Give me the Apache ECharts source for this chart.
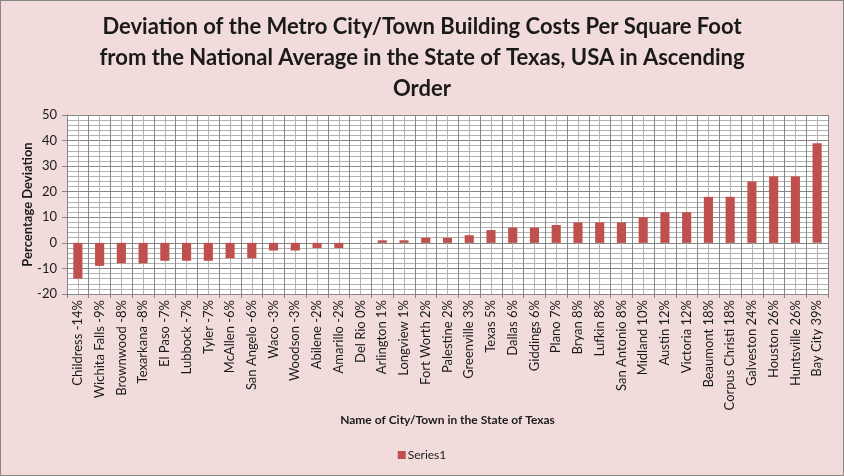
<!DOCTYPE html>
<html>
<head>
<meta charset="utf-8">
<script src="https://cdn.jsdelivr.net/npm/echarts@6/dist/echarts.min.js"></script>
<style>
  html, body { margin: 0; padding: 0; }
  #main { width: 842px; height: 474px; border: 1px solid #878787; background: #f2dcdb; }
</style>
</head>
<body>
<div id="main"></div>
<script>
// cities in ascending order of deviation
const cities = ['Childress', 'Wichita Falls', 'Brownwood', 'Texarkana', 'El Paso', 'Lubbock', 'Tyler',
  'McAllen', 'San Angelo', 'Waco', 'Woodson', 'Abilene', 'Amarillo', 'Del Rio', 'Arlington', 'Longview',
  'Fort Worth', 'Palestine', 'Greenville', 'Texas', 'Dallas', 'Giddings', 'Plano', 'Bryan', 'Lufkin',
  'San Antonio', 'Midland', 'Austin', 'Victoria', 'Beaumont', 'Corpus Christi', 'Galveston', 'Houston',
  'Huntsville', 'Bay City']
const deviation = [-14, -9, -8, -8, -7, -7, -7, -6, -6, -3, -3, -2, -2, 0, 1, 1, 2, 2, 3, 5, 6, 6, 7, 8, 8, 8,
  10, 12, 12, 18, 18, 24, 26, 26, 39]
const yTicks = { min: -20, max: 50, step: 10 }

const labels = cities.map((c, i) => c + ' ' + deviation[i] + '%')

const major = '#868686'
const minor = '#b2b2b2'
const font = 'Lato, "Open Sans", sans-serif'

var chartDom = document.getElementById('main');
var myChart = echarts.init(chartDom);
var option = {
  textStyle: { fontFamily: font },
  title: {
    text: 'Deviation of the Metro City/Town Building Costs Per Square Foot\nfrom the National Average in the State of Texas, USA in Ascending\nOrder',
    left: 'center',
    top: 5,
    textStyle: { fontFamily: font, fontSize: 22, fontWeight: 'bold', color: '#1a1a1a', lineHeight: 31 }
  },
  legend: {
    bottom: 9,
    left: 'center',
    icon: 'rect',
    itemWidth: 8,
    itemHeight: 8,
    itemGap: 4,
    textStyle: { fontFamily: font, fontSize: 12, color: '#1a1a1a', padding: [0, 0, 0, -3] },
    data: ['Series1']
  },
  grid: { left: 66, right: 15, top: 114, bottom: 181, backgroundColor: '#fff', show: true, borderWidth: 0, z: 0 },
  xAxis: [
    {
      type: 'category',
      data: labels,
      z: 1,
      name: 'Name of City/Town in the State of Texas',
      nameLocation: 'middle',
      nameGap: 120,
      nameMoveOverlap: false,
      nameTextStyle: { fontFamily: font, fontSize: 12, fontWeight: 'bold', color: '#1a1a1a' },
      axisLine: { onZero: false, lineStyle: { color: major } },
      axisTick: { show: true, length: 4, lineStyle: { color: major } },
      splitLine: { show: true, lineStyle: { color: major, width: 1 } },
      axisLabel: { rotate: 90, margin: 6, fontSize: 13, color: '#1a1a1a', fontFamily: font, interval: 0 }
    },
    {
      type: 'value',
      min: 0,
      max: cities.length,
      interval: 1,
      z: 1,
      position: 'top',
      axisLine: { show: false },
      axisTick: { show: false },
      axisLabel: { show: false },
      splitLine: { show: false },
      minorTick: { show: false, splitNumber: 2 },
      minorSplitLine: { show: true, lineStyle: { color: minor, width: 1 } }
    }
  ],
  yAxis: {
    type: 'value',
    min: yTicks.min,
    max: yTicks.max,
    interval: yTicks.step,
    z: 1,
    name: 'Percentage Deviation',
    nameLocation: 'middle',
    nameGap: 33,
    nameMoveOverlap: false,
    nameTextStyle: { fontFamily: font, fontSize: 13, fontWeight: 'bold', color: '#1a1a1a' },
    axisLine: { show: true, lineStyle: { color: major } },
    axisTick: { show: true, length: 5, lineStyle: { color: major } },
    axisLabel: { fontSize: 13, color: '#1a1a1a', fontFamily: font, margin: 10 },
    splitLine: { show: true, lineStyle: { color: major, width: 1 } },
    minorTick: { show: false, splitNumber: 5 },
    minorSplitLine: { show: true, lineStyle: { color: minor, width: 1 } }
  },
  series: [
    {
      name: 'Series1',
      type: 'bar',
      data: deviation,
      barWidth: '42%',
      itemStyle: { color: '#c0504d' },
      z: 10
    }
  ]
};
myChart.setOption(option);
</script>
</body>
</html>
